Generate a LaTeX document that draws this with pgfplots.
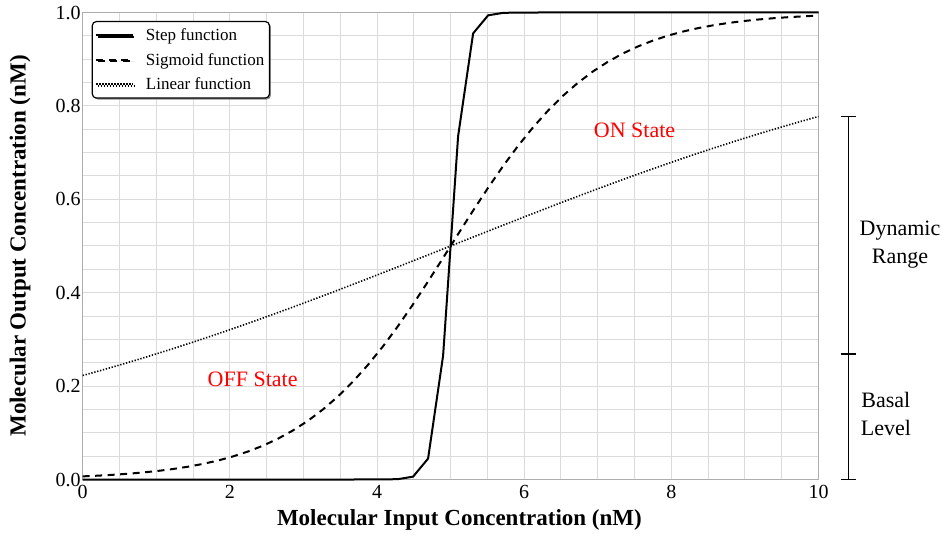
\documentclass[border=0pt]{standalone}
\usepackage{fontspec}
\setmainfont{Liberation Serif}
\usepackage{pgfplots}
\pgfplotsset{compat=1.18}
\usepackage{pgfplotstable}
\usetikzlibrary{calc,shadows}
\pgfplotstableread{
x step sig lin
0.00000 0.0000000 0.006693 0.22270
0.20408 0.0000000 0.008196 0.23166
0.40816 0.0000000 0.010033 0.24086
0.61224 0.0000000 0.012276 0.25031
0.81633 0.0000000 0.015014 0.26001
1.02041 0.0000000 0.018350 0.26995
1.22449 0.0000000 0.022411 0.28012
1.42857 0.0000000 0.027347 0.29052
1.63265 0.0000000 0.033331 0.30115
1.83673 0.0000000 0.040571 0.31199
2.04082 0.0000000 0.049305 0.32305
2.24490 0.0000000 0.059798 0.33431
2.44898 0.0000000 0.072359 0.34576
2.65306 0.0000000 0.087310 0.35739
2.85714 0.0000000 0.105000 0.36919
3.06122 0.0000000 0.125780 0.38114
3.26531 0.0000000 0.149990 0.39325
3.46939 0.0000002 0.177900 0.40549
3.67347 0.0000017 0.209730 0.41784
3.87755 0.0000134 0.245560 0.43030
4.08163 0.0001030 0.285290 0.44285
4.28571 0.0007900 0.328650 0.45548
4.48980 0.0060480 0.375150 0.46816
4.69388 0.0447370 0.424060 0.48088
4.89796 0.2649500 0.474510 0.49362
5.10204 0.7350500 0.525490 0.50638
5.30612 0.9552630 0.575940 0.51912
5.51020 0.9939520 0.624850 0.53184
5.71429 0.9992100 0.671350 0.54452
5.91837 0.9998970 0.714710 0.55715
6.12245 0.9999866 0.754440 0.56970
6.32653 0.9999983 0.790270 0.58216
6.53061 0.9999998 0.822100 0.59451
6.73469 1.0000000 0.850010 0.60675
6.93878 1.0000000 0.874220 0.61886
7.14286 1.0000000 0.895000 0.63081
7.34694 1.0000000 0.912690 0.64261
7.55102 1.0000000 0.927640 0.65424
7.75510 1.0000000 0.940200 0.66569
7.95918 1.0000000 0.950695 0.67695
8.16327 1.0000000 0.959429 0.68801
8.36735 1.0000000 0.966669 0.69885
8.57143 1.0000000 0.972653 0.70948
8.77551 1.0000000 0.977589 0.71988
8.97959 1.0000000 0.981650 0.73005
9.18367 1.0000000 0.984986 0.73999
9.38776 1.0000000 0.987724 0.74969
9.59184 1.0000000 0.989967 0.75914
9.79592 1.0000000 0.991804 0.76834
10.00000 1.0000000 0.993307 0.77730
}\datatable
\begin{document}
\begin{tikzpicture}
\begin{axis}[
  scale only axis, width=735.8pt, height=467pt,
  xmin=0, xmax=10, ymin=0, ymax=1,
  xtick={0,2,4,6,8,10}, ytick={0,0.2,0.4,0.6,0.8,1},
  minor x tick num=3, minor y tick num=3,
  grid=both,
  major grid style={draw=black!14, line width=1pt},
  minor grid style={draw=black!14, line width=1pt},
  major tick length=0pt, minor tick length=0pt,
  axis line style={draw=black!32, line width=1.5pt},
  clip=false,
  /pgf/number format/assume math mode=true,
  tick label style={font=\fontsize{20}{24}\selectfont},
  xticklabel style={yshift=-2pt},
  yticklabel style={xshift=1.5pt, /pgf/number format/.cd, fixed, fixed zerofill, precision=1},
  xticklabel style={/pgf/number format/.cd, fixed, precision=0},
  xlabel={Molecular Input Concentration (nM)},
  ylabel={Molecular Output Concentration (nM)},
  xlabel style={font=\bfseries\fontsize{23}{27}\selectfont, at={(axis description cs:0.512,0)}, anchor=center, yshift=-40.5pt},
  ylabel style={font=\bfseries\fontsize{23}{27}\selectfont, at={(axis description cs:0,0.5)}, anchor=center, yshift=62.7pt},
  legend cell align=left,
  legend image code/.code={\draw[#1] (0pt,0pt) -- (36.6pt,0pt);},
  legend style={at={(axis description cs:0,1)}, anchor=north west, xshift=9pt, yshift=-8.5pt,
    draw=black, line width=1.2pt, rounded corners=4pt, fill=white,
    font=\fontsize{17}{20}\selectfont, inner xsep=3pt, inner ysep=5pt, row sep=7pt,
    column sep=10pt,
    nodes={inner sep=2pt},
    drop shadow={shadow xshift=1.5pt, shadow yshift=-1.5pt, fill=black!45, opacity=1}},
]
\addplot[black, line width=2pt] table[x=x, y=step] {\datatable};
\addlegendentry{Step function}
\addplot[black, line width=2pt, dash pattern=on 7pt off 5.5pt] table[x=x, y=sig] {\datatable};
\addlegendentry{Sigmoid function}
\addplot[black, line width=1.6pt, dash pattern=on 1.3pt off 1.7pt] table[x=x, y=lin] {\datatable};
\addlegendentry{Linear function}

\node[text=red, font=\fontsize{22}{26}\selectfont] at (axis cs:7.5,0.748) {ON State};
\node[text=red, font=\fontsize{22}{26}\selectfont] at (axis cs:2.31,0.215) {OFF State};

\draw[line width=1.5pt] (axis cs:10.405,0) -- (axis cs:10.405,0.7773);
\draw[line width=1.5pt] ([xshift=-7.5pt]axis cs:10.405,0) -- ([xshift=7.5pt]axis cs:10.405,0);
\draw[line width=1.5pt] ([xshift=-7.5pt]axis cs:10.405,0.269) -- ([xshift=7.5pt]axis cs:10.405,0.269);
\draw[line width=1.5pt] ([xshift=-7.5pt]axis cs:10.405,0.7773) -- ([xshift=7.5pt]axis cs:10.405,0.7773);
\node[align=center, font=\fontsize{22}{28}\selectfont] at (axis cs:11.107,0.502) {Dynamic\\Range};
\node[align=center, font=\fontsize{22}{28}\selectfont] at (axis cs:10.916,0.140) {Basal\\Level};

\coordinate (SW) at (rel axis cs:0,0);
\coordinate (NE) at (rel axis cs:1,1);
\end{axis}
\pgfresetboundingbox
\path[use as bounding box] ($(SW)+(-82.7pt,-61.5pt)$) rectangle ($(NE)+(126.5pt,12.5pt)$);
\end{tikzpicture}
\end{document}
